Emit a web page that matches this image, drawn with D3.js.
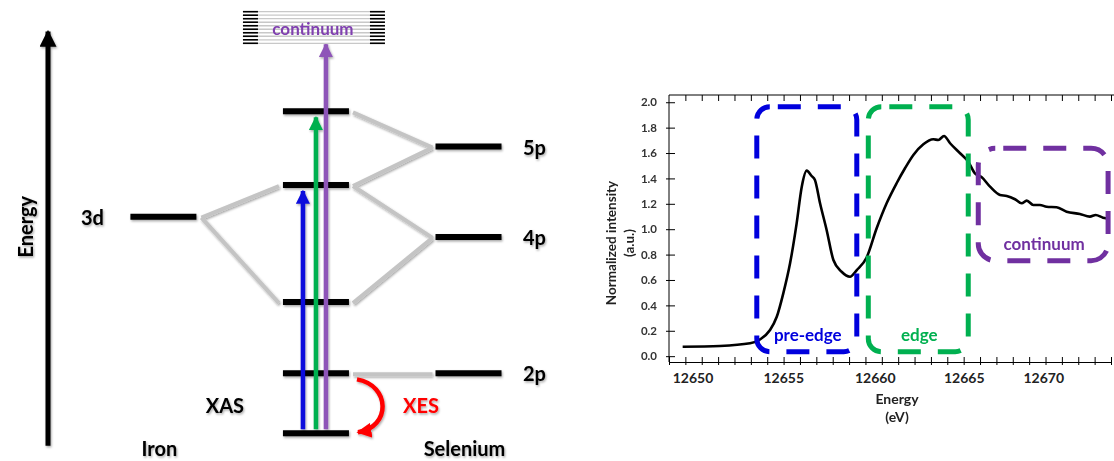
<!DOCTYPE html>
<html>
<head>
<meta charset="utf-8">
<script src="https://cdn.jsdelivr.net/npm/d3@7"></script>
<style>
  body { margin: 0; background: #fff; }
  svg { display: block; font-family: Lato, "Open Sans", sans-serif; font-weight: bold; }
</style>
</head>
<body>
<svg id="chart" width="1114" height="461"></svg>
<script>
// ---------- energy level diagram data ----------
const columns = ['Iron', 'Complex', 'Selenium'];
const ironLevels = [{ label: '3d', e: 5.35 }];
const complexLevels = [0, 1.48, 3.24, 6.13, 7.95];
const seleniumLevels = [{ label: '2p', e: 1.48 }, { label: '4p', e: 4.85 }, { label: '5p', e: 7.08 }];
// [from column, from energy, to column, to energy]
const correlations = [
    ['Iron', 5.35, 'Complex', 6.13],
    ['Iron', 5.35, 'Complex', 3.24],
    ['Selenium', 7.08, 'Complex', 7.95],
    ['Selenium', 7.08, 'Complex', 6.13],
    ['Selenium', 4.85, 'Complex', 6.13],
    ['Selenium', 4.85, 'Complex', 3.24],
    ['Selenium', 1.48, 'Complex', 1.48]
];
const xasTargets = [6.13, 7.95, 9.63];
const xasColors = ['#0a0adc', '#00b050', '#8e55b8'];
const continuumRange = [9.63, 10.41];

// ---------- spectrum data ----------
const energy = [12649.46, 12651.51, 12653.17, 12653.72, 12654.27, 12654.64, 12655.00, 12655.37, 12655.73, 12656.01,
    12656.28, 12656.55, 12656.73, 12657.01, 12657.37, 12657.74, 12658.19, 12658.65, 12659.02, 12659.56,
    12660.11, 12660.67, 12661.23, 12661.70, 12662.17, 12662.73, 12663.29, 12663.57, 12663.89, 12664.23,
    12664.79, 12665.28, 12665.70, 12666.13, 12666.65, 12667.28, 12667.70, 12668.22, 12668.64, 12668.96,
    12669.37, 12669.79, 12670.21, 12670.84, 12671.47, 12672.31, 12672.94, 12673.31, 12673.77, 12674.19];
const intensity = [0.074, 0.080, 0.101, 0.132, 0.206, 0.310, 0.495, 0.731, 1.046, 1.335,
    1.461, 1.419, 1.388, 1.204, 0.994, 0.757, 0.665, 0.626, 0.678, 0.777,
    1.007, 1.204, 1.362, 1.480, 1.585, 1.669, 1.708, 1.703, 1.734, 1.677,
    1.598, 1.532, 1.440, 1.409, 1.335, 1.269, 1.262, 1.236, 1.204, 1.225,
    1.191, 1.191, 1.177, 1.173, 1.138, 1.120, 1.099, 1.112, 1.091, 1.083];
const xTickLabels = [12650, 12655, 12660, 12665, 12670];
const yTickLabels = [0, 0.2, 0.4, 0.6, 0.8, 1.0, 1.2, 1.4, 1.6, 1.8, 2.0];
const regions = [
    { name: 'pre-edge', e0: 12653.54, e1: 12659.02, i0: 0.035, i1: 1.965, color: '#0000dd' },
    { name: 'edge', e0: 12659.65, e1: 12665.28, i0: 0.035, i1: 1.965, color: '#00b050' },
    { name: 'continuum', e0: 12665.91, e1: 12674.09, i0: 0.752, i1: 1.637, color: '#7030a0' }
];

const svg = d3.select('#chart');

const defs = svg.append('defs');
defs.append('filter').attr('id', 'shadow')
    .attr('x', '-20%').attr('y', '-20%').attr('width', '140%').attr('height', '140%')
    .append('feDropShadow')
    .attr('dx', 1).attr('dy', 1.5).attr('stdDeviation', 1)
    .attr('flood-color', '#000').attr('flood-opacity', 0.35);

function arrowMarker(id, color, w, h) {
    defs.append('marker').attr('id', id)
        .attr('viewBox', '0 0 10 10').attr('refX', 9).attr('refY', 5)
        .attr('markerUnits', 'userSpaceOnUse')
        .attr('markerWidth', w).attr('markerHeight', h)
        .attr('orient', 'auto')
        .append('path').attr('d', 'M0,0 L10,5 L0,10 Z').attr('fill', color);
}
arrowMarker('arr-black', '#000', 17, 17);
xasColors.forEach((c, i) => arrowMarker('arr-' + i, c, 14, 14));
arrowMarker('arr-red', '#ff0000', 15, 16);

// ================= energy level diagram =================
const eScale = d3.scaleLinear().domain([0, 10]).range([433.3, 28.3]);
const colScale = d3.scalePoint().domain(columns).range([163.4, 468.5]);
const halfW = 33;

const diag = svg.append('g').attr('filter', 'url(#shadow)');

// energy axis arrow
diag.append('line')
    .attr('x1', 48).attr('x2', 48)
    .attr('y1', eScale(-0.31)).attr('y2', eScale(9.92))
    .attr('stroke', '#000').attr('stroke-width', 5)
    .attr('marker-end', 'url(#arr-black)');
diag.append('text')
    .attr('transform', `translate(25, ${eScale(5.1)}) rotate(-90)`)
    .attr('text-anchor', 'middle').attr('dominant-baseline', 'central')
    .attr('font-size', 20).text('Energy');

// correlation lines
diag.append('g').selectAll('line').data(correlations).enter().append('line')
    .attr('x1', d => colScale(d[0]) + (d[0] === 'Iron' ? halfW + 5 : -halfW - 3))
    .attr('y1', d => eScale(d[1]) + 1)
    .attr('x2', d => colScale(d[2]) + (d[0] === 'Iron' ? -halfW - 4 : halfW + 4))
    .attr('y2', d => eScale(d[3]) + 1)
    .attr('stroke', '#c4c4c4').attr('stroke-width', 4);

function drawLevels(col, levels) {
    diag.append('g').selectAll('line').data(levels).enter().append('line')
        .attr('x1', colScale(col) - halfW).attr('x2', colScale(col) + halfW)
        .attr('y1', d => eScale(d.e !== undefined ? d.e : d))
        .attr('y2', d => eScale(d.e !== undefined ? d.e : d))
        .attr('stroke', '#000').attr('stroke-width', 6);
}
drawLevels('Iron', ironLevels);
drawLevels('Complex', complexLevels);
drawLevels('Selenium', seleniumLevels);

diag.append('g').selectAll('text').data(ironLevels).enter().append('text')
    .attr('x', colScale('Iron') - 71).attr('y', d => eScale(d.e))
    .attr('text-anchor', 'middle').attr('dominant-baseline', 'central')
    .attr('font-size', 20).text(d => d.label);
diag.append('g').selectAll('text').data(seleniumLevels).enter().append('text')
    .attr('x', colScale('Selenium') + 66).attr('y', d => eScale(d.e))
    .attr('text-anchor', 'middle').attr('dominant-baseline', 'central')
    .attr('font-size', 20).text(d => d.label);

// continuum box
const cTop = eScale(continuumRange[1]), cBot = eScale(continuumRange[0]);
const cx0 = colScale('Complex') - 73, cx1 = colScale('Complex') + 69;
const hatch = d3.range(10).map(i => cTop + i * (cBot - cTop) / 9);
const cont = svg.append('g');
cont.selectAll('line.g').data(hatch).enter().append('line')
    .attr('x1', cx0).attr('x2', cx1).attr('y1', d => d).attr('y2', d => d)
    .attr('stroke', '#c8c8c8').attr('stroke-width', 1.3);
[[cx0, cx0 + 15], [cx1 - 15, cx1]].forEach(seg => {
    cont.selectAll(null).data(hatch).enter().append('line')
        .attr('x1', seg[0]).attr('x2', seg[1]).attr('y1', d => d).attr('y2', d => d)
        .attr('stroke', '#000').attr('stroke-width', 1.6);
});
cont.append('text')
    .attr('x', colScale('Complex') - 3).attr('y', eScale(10.0))
    .attr('text-anchor', 'middle').attr('dominant-baseline', 'central')
    .attr('font-size', 17).attr('fill', '#8040b0').text('continuum');

// XAS arrows
const arrowDx = [-13, 0, 10];
diag.append('g').selectAll('line').data(xasTargets).enter().append('line')
    .attr('x1', (d, i) => colScale('Complex') + arrowDx[i])
    .attr('x2', (d, i) => colScale('Complex') + arrowDx[i])
    .attr('y1', eScale(0) - 4)
    .attr('y2', (d, i) => eScale(d) + (i < 2 ? 6 : 1))
    .attr('stroke', (d, i) => xasColors[i]).attr('stroke-width', 4.5)
    .attr('marker-end', (d, i) => `url(#arr-${i})`);

// XES arc
const xs = colScale('Complex') + 41;
const xesPath = d3.path();
xesPath.moveTo(xs, eScale(complexLevels[1]) + 6);
xesPath.bezierCurveTo(xs + 34, eScale(complexLevels[1]) + 12, xs + 34, eScale(0) - 6, xs + 1, eScale(0) - 1);
diag.append('path').attr('d', xesPath.toString())
    .attr('fill', 'none').attr('stroke', '#ff0000').attr('stroke-width', 4.5)
    .attr('marker-end', 'url(#arr-red)');

diag.append('text').attr('x', colScale('Complex') - 91).attr('y', 405)
    .attr('text-anchor', 'middle').attr('dominant-baseline', 'central')
    .attr('font-size', 20).text('XAS');
diag.append('text').attr('x', colScale('Complex') + 105).attr('y', 405)
    .attr('text-anchor', 'middle').attr('dominant-baseline', 'central')
    .attr('font-size', 20).attr('fill', '#ff0000').text('XES');
diag.append('g').selectAll('text').data(['Iron', 'Selenium']).enter().append('text')
    .attr('x', d => colScale(d) - 4).attr('y', 448)
    .attr('text-anchor', 'middle').attr('dominant-baseline', 'central')
    .attr('font-size', 20).text(d => d);

// ================= XAS spectrum =================
const plot = { left: 669, right: 1114, top: 95, bottom: 362 };
// axis labels in the source are not evenly spaced, so use a piecewise scale
const x = d3.scaleLinear()
    .domain([12648.71, 12650, 12655, 12660, 12665, 12670, 12674.4])
    .range([plot.left, 692.5, 783.3, 874.7, 963.8, 1043.3, 1113]);
const y = d3.scaleLinear().domain([-0.046, 2.057]).range([plot.bottom, plot.top]);
const tickIdx = d3.scaleLinear().domain([0, 27]).range([plot.left, 1111]);

const chart = svg.append('g');

// top border with inward ticks
chart.append('line').attr('x1', plot.left).attr('x2', plot.right)
    .attr('y1', plot.top).attr('y2', plot.top).attr('stroke', '#000').attr('stroke-width', 1);
chart.append('g').attr('transform', `translate(0,${plot.top})`)
    .call(d3.axisBottom(tickIdx).tickValues(d3.range(1, 28)).tickSize(6).tickFormat(''))
    .call(g => g.select('.domain').remove());

// bottom axis ticks
chart.append('g').attr('transform', `translate(0,${plot.bottom})`)
    .call(d3.axisBottom(tickIdx).tickValues(d3.range(0, 28)).tickSize(3).tickFormat('').tickSizeOuter(0))
    .call(g => g.selectAll('.tick line').attr('y1', -5));
chart.append('g').attr('transform', `translate(0,${plot.bottom})`)
    .call(d3.axisBottom(x).tickValues(xTickLabels).tickSize(0).tickPadding(11).tickFormat(d3.format('d')))
    .call(g => g.select('.domain').remove())
    .call(g => g.selectAll('text').attr('font-size', 14).attr('font-family', 'Lato, sans-serif')
        .attr('font-weight', 'bold').attr('fill', '#222'));

// left axis
chart.append('g').attr('transform', `translate(${plot.left},0)`)
    .call(d3.axisLeft(y).tickValues(yTickLabels).tickSize(-6).tickSizeOuter(0).tickPadding(12).tickFormat(d3.format('.1f')))
    .call(g => g.select('.domain').attr('d', `M0,${plot.top}V${plot.bottom}`))
    .call(g => g.selectAll('.tick line').attr('x1', -3))
    .call(g => g.selectAll('text').attr('font-size', 11.5).attr('font-family', 'Lato, sans-serif')
        .attr('font-weight', 'bold').attr('fill', '#333'));

chart.append('text')
    .attr('transform', `translate(611, 243) rotate(-90)`)
    .attr('text-anchor', 'middle').attr('dominant-baseline', 'central')
    .attr('font-size', 13.5).attr('fill', '#222').text('Normalized intensity');
chart.append('text')
    .attr('transform', `translate(629, 243) rotate(-90)`)
    .attr('text-anchor', 'middle').attr('dominant-baseline', 'central')
    .attr('font-size', 13.5).attr('fill', '#222').text('(a.u.)');
chart.append('text').attr('x', 897).attr('y', 398)
    .attr('text-anchor', 'middle').attr('dominant-baseline', 'central')
    .attr('font-size', 14).attr('fill', '#222').text('Energy');
chart.append('text').attr('x', 897).attr('y', 416)
    .attr('text-anchor', 'middle').attr('dominant-baseline', 'central')
    .attr('font-size', 14).attr('fill', '#222').text('(eV)');

// spectrum line
const line = d3.line().x((d, i) => x(energy[i])).y(d => y(d)).curve(d3.curveMonotoneX);
chart.append('path').datum(intensity)
    .attr('d', line).attr('fill', 'none')
    .attr('stroke', '#000').attr('stroke-width', 2.6);

// dashed region boxes
const boxes = chart.append('g').selectAll('g').data(regions).enter().append('g');
boxes.append('rect')
    .attr('x', d => x(d.e0)).attr('y', d => y(d.i1))
    .attr('width', d => x(d.e1) - x(d.e0)).attr('height', d => y(d.i0) - y(d.i1))
    .attr('rx', d => d.name === 'continuum' ? 17 : 13)
    .attr('fill', 'none').attr('stroke', d => d.color).attr('stroke-width', 5)
    .attr('stroke-dasharray', '23,17').attr('stroke-dashoffset', -8);
boxes.append('text')
    .attr('x', d => (x(d.e0) + x(d.e1)) / 2 + 1)
    .attr('y', d => y(d.i0) - 17)
    .attr('text-anchor', 'middle').attr('dominant-baseline', 'central')
    .attr('font-size', 17).attr('fill', d => d.color).text(d => d.name);
</script>
</body>
</html>
